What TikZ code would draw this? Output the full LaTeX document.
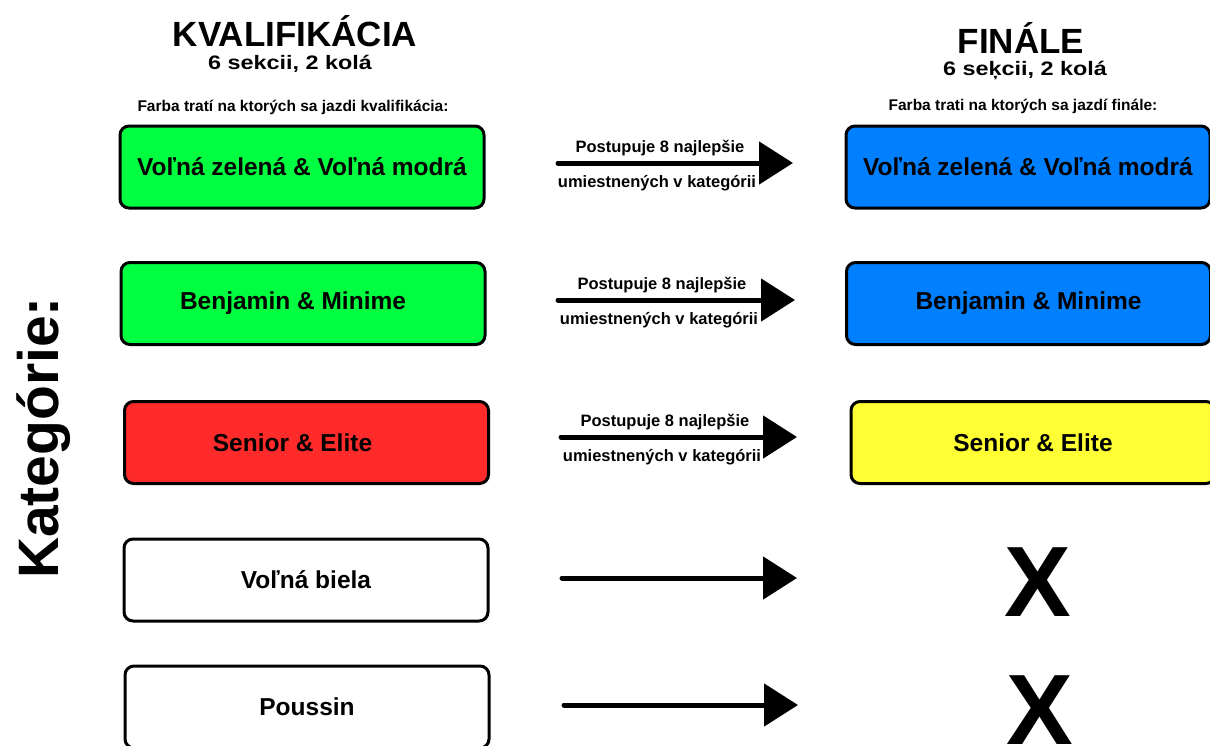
\documentclass[tikz,border=0pt]{standalone}
\usepackage{fontspec}
\setmainfont{Liberation Sans}
\newfontfamily\widefont{Liberation Sans}[FakeStretch=1.2]
\usetikzlibrary{arrows.meta}

\definecolor{qgreen}{RGB}{0,255,64}
\definecolor{fblue}{RGB}{0,128,255}
\definecolor{qred}{RGB}{255,42,42}
\definecolor{fyellow}{RGB}{255,255,51}

\tikzset{
  every picture/.style={line width=0.75pt},
  catbox/.style={draw, line width=3pt, rounded corners=9pt, minimum width=364pt, minimum height=82pt, font=\bfseries\fontsize{24.5}{26}\selectfont},
  postup/.style={line width=5pt, line cap=round, -{Triangle[length=34pt,width=42pt]}},
  postlbl/.style={inner sep=0pt, font=\bfseries\fontsize{15.5}{17}\selectfont},
  arrlbl/.style={inner sep=0pt, font=\bfseries\fontsize{16.5}{18}\selectfont},
}

\begin{document}
\begin{tikzpicture}[x=1pt,y=1pt,yscale=-1,xscale=1]
\useasboundingbox (0,0) rectangle (1210,745);

% Headers
\node (hq) at (295,31) [inner sep=0pt] {\bfseries\fontsize{35}{36}\selectfont KVALIFIKÁCIA};
\node (hqs) at (290,64) [inner sep=0pt] {\widefont\bfseries\fontsize{19.5}{20}\selectfont 6 sekcii, 2 kolá};
\node (hf) at (1021,38) [inner sep=0pt] {\bfseries\fontsize{35}{36}\selectfont FINÁLE};
\node (hfs) at (1025,71) [inner sep=0pt] {\widefont\bfseries\fontsize{19.5}{20}\selectfont 6 seķcii, 2 kolá};
\node (fq) at (293,107) [postlbl] {Farba tratí na ktorých sa jazdi kvalifikácia:};
\node (ff) at (1023,106) [postlbl] {Farba trati na ktorých sa jazdí finále:};

% Side title
\node (kat) at (44,438) [rotate=90, inner sep=0pt] {\bfseries\fontsize{57}{60}\selectfont Kategórie:};

% Qualification boxes
\node (q1) at (302,167) [catbox, fill=qgreen] {Voľná zelená \& Voľná modrá};
\node (q2) at (303,303.5) [catbox, fill=qgreen] {Benjamin \& Minime\hspace*{20pt}};
\node (q3) at (306.5,442.5) [catbox, fill=qred] {Senior \& Elite\hspace*{28pt}};
\node (q4) at (306,580) [catbox] {Voľná biela};
\node (q5) at (307,707) [catbox] {Poussin};

% Final boxes
\node (f1) at (1028,167) [catbox, fill=fblue] {Voľná zelená \& Voľná modrá};
\node (f2) at (1028.5,303.5) [catbox, fill=fblue] {Benjamin \& Minime};
\node (f3) at (1033,442.5) [catbox, fill=fyellow] {Senior \& Elite};
\node (x4) at (1038,582) [inner sep=0pt] {\bfseries\fontsize{100}{100}\selectfont X};
\node (x5) at (1040,710) [inner sep=0pt] {\bfseries\fontsize{100}{100}\selectfont X};

% Arrows
\coordinate (a1s) at (558,163);  \coordinate (a1e) at (793,163);
\coordinate (a2s) at (558,300);  \coordinate (a2e) at (795,300);
\coordinate (a3s) at (561,437);  \coordinate (a3e) at (797,437);
\coordinate (a4s) at (562,578);  \coordinate (a4e) at (797,578);
\coordinate (a5s) at (564,705);  \coordinate (a5e) at (798,705);
\draw [postup] (a1s) -- (a1e);
\draw [postup] (a2s) -- (a2e);
\draw [postup] (a3s) -- (a3e);
\draw [postup] (a4s) -- (a4e);
\draw [postup] (a5s) -- (a5e);

% Arrow labels
\node (p1) at (660,148) [arrlbl] {Postupuje 8 najlepšie};
\node (u1) at (657,183) [arrlbl] {umiestnených v kategórii};
\node (p2) at (662,285) [arrlbl] {Postupuje 8 najlepšie};
\node (u2) at (659,320) [arrlbl] {umiestnených v kategórii};
\node (p3) at (665,422) [arrlbl] {Postupuje 8 najlepšie};
\node (u3) at (662,457) [arrlbl] {umiestnených v kategórii};

\end{tikzpicture}
\end{document}
